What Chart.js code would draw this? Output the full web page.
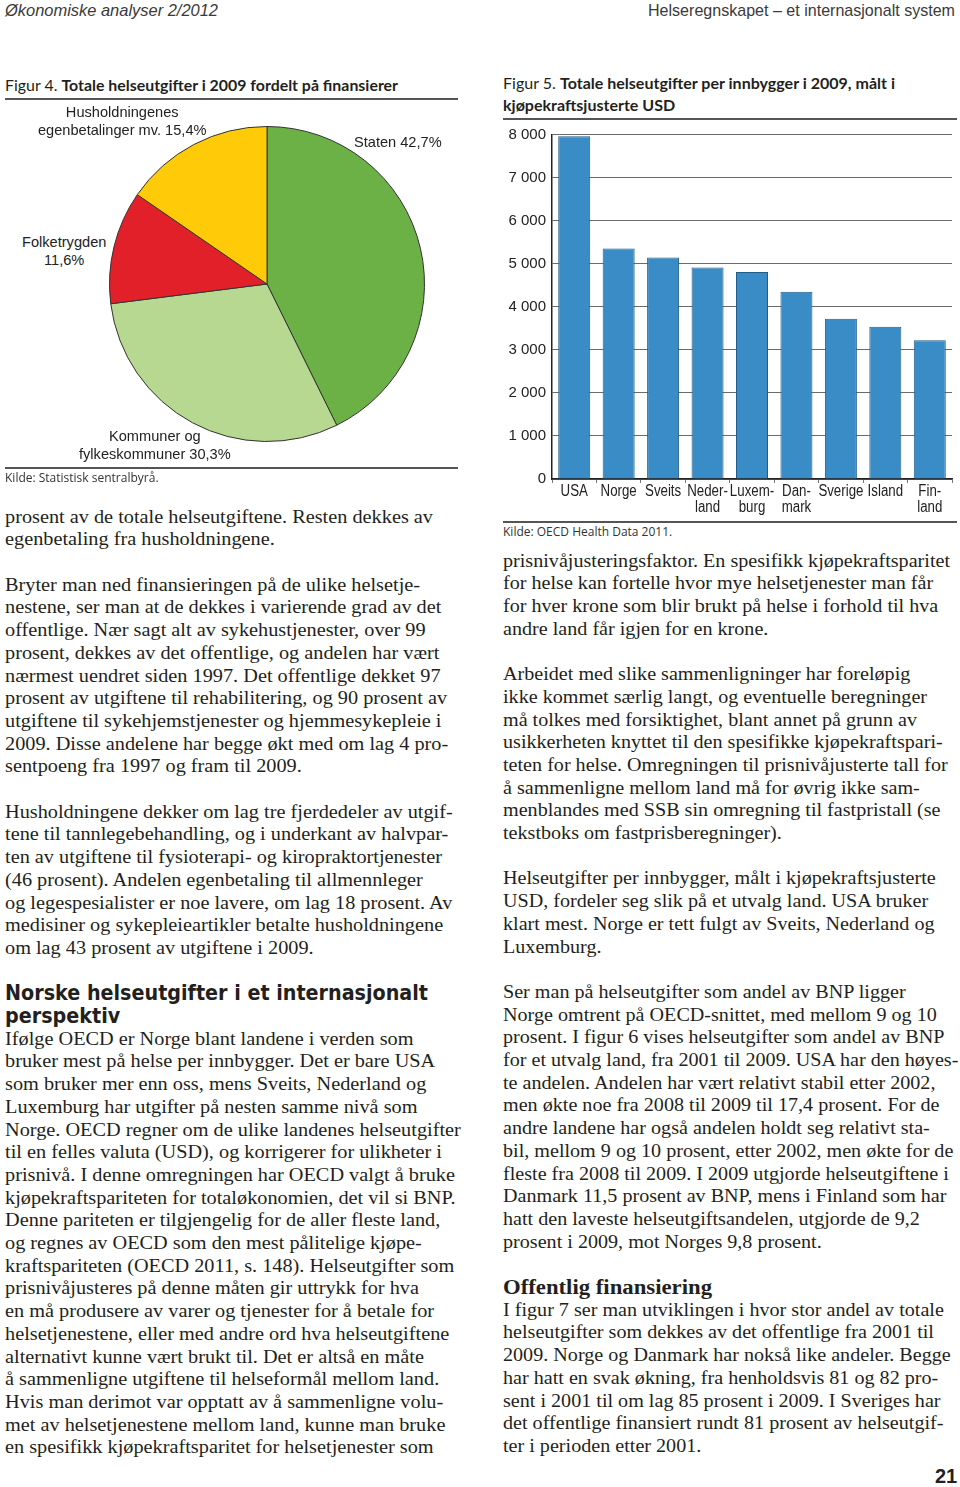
<!DOCTYPE html>
<html lang="no">
<head>
<meta charset="utf-8">
<script src="https://cdn.jsdelivr.net/npm/chart.js@4.4.1/dist/chart.umd.min.js"></script>
<style>
html, body { margin: 0; padding: 0; background: #fff; }
body { width: 960px; height: 1487px; position: relative; overflow: hidden; color: #231f20; }
.abs { position: absolute; white-space: nowrap; transform-origin: 0 50%; }
.hdr { font-family: 'Liberation Sans Narrow', 'Liberation Sans', sans-serif; font-style: italic; font-size: 17px; line-height: 20px; color: #3a3a3a; }
.hdr.r { font-style: normal; }
.ftitle { font-family: Lato, 'Open Sans', sans-serif; font-size: 15px; line-height: 20px; }
.ftitle b { font-weight: 700; }
.rule { position: absolute; height: 2px; background: #555; }
.kilde { font-family: 'Open Sans', Lato, sans-serif; font-size: 12px; line-height: 16px; color: #333; }
.plabel { font-family: 'Liberation Sans', Arial, sans-serif; font-size: 14.6px; line-height: 18px; color: #222; text-align: center; }
.line { font-family: 'Liberation Serif', serif; font-size: 19.5px; line-height: 22.7px; }
.h2 { font-family: 'DejaVu Sans', sans-serif; font-weight: bold; font-size: 21px; line-height: 22.7px; }
.h3 { font-family: 'Liberation Serif', serif; font-weight: bold; font-size: 20px; line-height: 22.7px; }
.pnum { font-family: 'Liberation Sans Narrow', 'Liberation Sans', sans-serif; font-weight: bold; font-size: 20px; }
</style>
</head>
<body>

<!-- topptekst -->
<div class="abs hdr" id="hdrL" style="left:5px;top:1px">Økonomiske analyser 2/2012</div>
<div class="abs hdr r" id="hdrR" style="left:648px;top:1px">Helseregnskapet – et internasjonalt system</div>

<!-- figur 4 -->
<div class="abs ftitle" id="t4" style="left:5px;top:75px">Figur 4. <b>Totale helseutgifter i 2009 fordelt på finansierer</b></div>
<div class="rule" style="left:5px;top:98px;width:453px"></div>
<div id="pieWrap" style="position:absolute;left:109px;top:126px;width:316px;height:316px">
  <canvas id="pie" width="316" height="316"></canvas>
</div>
<div id="pieLabels"></div>
<div class="rule" style="left:5px;top:467px;width:453px"></div>
<div class="abs kilde" style="left:5px;top:470px">Kilde: Statistisk sentralbyrå.</div>

<!-- figur 5 -->
<div class="abs ftitle" id="t5a" style="left:503px;top:73px">Figur 5. <b>Totale helseutgifter per innbygger i 2009, målt i</b></div>
<div class="abs ftitle" id="t5b" style="left:503px;top:95px"><b>kjøpekraftsjusterte USD</b></div>
<div class="rule" style="left:503px;top:118px;width:454px"></div>
<div style="position:absolute;left:500px;top:120px;width:460px;height:400px">
  <canvas id="bars" width="460" height="400"></canvas>
</div>
<div class="rule" style="left:503px;top:521px;width:454px"></div>
<div class="abs kilde" style="left:503px;top:524px">Kilde: OECD Health Data 2011.</div>

<div id="textL"></div>
<div id="textR"></div>

<div class="abs pnum" style="left:935px;top:1465px">21</div>

<script>
// figur 4 : finansierere ////////////////////////////////////////////
const financers = ['Staten', 'Kommuner og fylkeskommuner', 'Folketrygden', 'Husholdningenes egenbetalinger mv.'];
const shares = [42.7, 30.3, 11.6, 15.4];
const financerColors = ['#6cb146', '#b6d890', '#e2202a', '#ffcb08'];
// etikett: linjer, senter x, første linje y
const pieLabelLines = [['Staten'], ['Kommuner og', 'fylkeskommuner'], ['Folketrygden', ''], ['Husholdningenes', 'egenbetalinger mv.']];
const pieLabelPos = [[398, 133], [155, 427], [64, 233], [122, 103]];

// figur 5 : utgifter per innbygger //////////////////////////////////
const countries = ['USA', 'Norge', 'Sveits', ['Neder-', 'land'], ['Luxem-', 'burg'], ['Dan-', 'mark'], 'Sverige', 'Island', ['Fin-', 'land']];
const spendingUsd = [7960, 5352, 5144, 4914, 4808, 4348, 3722, 3538, 3226];
const yTicks = [0, 1000, 2000, 3000, 4000, 5000, 6000, 7000, 8000];

const pct = v => v.toFixed(1).replace('.', ',') + '%';
const thousands = v => String(v).replace(/\B(?=(\d{3})+(?!\d))/g, ' ');

// etiketter rundt kaka
const $labels = document.getElementById('pieLabels');
pieLabelLines.forEach((lines, i) => {
  const txt = lines.slice();
  const last = txt.length - 1;
  txt[last] = (txt[last] ? txt[last] + ' ' : '') + pct(shares[i]);
  const d = document.createElement('div');
  d.className = 'plabel';
  d.style.position = 'absolute';
  d.style.whiteSpace = 'nowrap';
  d.innerHTML = txt.join('<br>');
  $labels.appendChild(d);
  d.style.left = (pieLabelPos[i][0] - d.offsetWidth / 2) + 'px';
  d.style.top = pieLabelPos[i][1] + 'px';
});

new Chart(document.getElementById('pie'), {
  type: 'pie',
  data: {
    labels: financers,
    datasets: [{ data: shares, backgroundColor: financerColors, borderColor: '#333', borderWidth: 1 }]
  },
  options: {
    responsive: false,
    animation: false,
    rotation: 0,
    plugins: { legend: { display: false }, tooltip: { enabled: false } }
  }
});

// kategori-etiketter i smal (sammenpresset) Arial, som i originalen
const squeezedXLabels = {
  id: 'squeezedXLabels',
  afterDraw(chart) {
    const sx = chart.scales.x;
    const ctx = chart.ctx;
    ctx.save();
    ctx.font = "16px 'Liberation Sans', Arial, sans-serif";
    ctx.fillStyle = '#222';
    ctx.textAlign = 'center';
    ctx.textBaseline = 'top';
    chart.data.labels.forEach((lab, i) => {
      const x = sx.getPixelForTick(i);
      [].concat(lab).forEach((t, j) => {
        ctx.save();
        ctx.translate(x, sx.top + 5 + j * 16);
        ctx.scale(0.83, 1);
        ctx.fillText(t, 0, 0);
        ctx.restore();
      });
    });
    ctx.restore();
  }
};

const yFont = { family: "'Liberation Sans', Arial, sans-serif", size: 15, lineHeight: 1.15 };

new Chart(document.getElementById('bars'), {
  type: 'bar',
  data: {
    labels: countries,
    datasets: [{
      data: spendingUsd,
      backgroundColor: '#3a8cc6',
      borderColor: '#1f5d88',
      borderWidth: 1,
      barPercentage: 0.72,
      categoryPercentage: 1
    }]
  },
  options: {
    responsive: false,
    animation: false,
    layout: { padding: { top: 11, right: 8 } },
    plugins: { legend: { display: false }, tooltip: { enabled: false } },
    scales: {
      x: {
        grid: { offset: true, drawOnChartArea: false, tickLength: 4, color: '#777' },
        border: { color: '#222', width: 1.5 },
        ticks: { display: false },
        afterFit: s => { s.height = 41; }
      },
      y: {
        min: yTicks[0],
        max: yTicks[yTicks.length - 1],
        afterBuildTicks: s => { s.ticks = yTicks.map(v => ({ value: v })); },
        ticks: { callback: v => thousands(v), color: '#222', font: yFont, padding: 6 },
        grid: { color: '#6b6b6b', drawTicks: false },
        border: { color: '#222', width: 1.5 },
        afterFit: s => { s.width = 52; }
      }
    }
  },
  plugins: [squeezedXLabels]
});

// brødtekst ////////////////////////////////////////////////////////
const leftLines = [
  'prosent av de totale helseutgiftene. Resten dekkes av',
  'egenbetaling fra husholdningene.',
  '',
  'Bryter man ned finansieringen på de ulike helsetje-',
  'nestene, ser man at de dekkes i varierende grad av det',
  'offentlige. Nær sagt alt av sykehustjenester, over 99',
  'prosent, dekkes av det offentlige, og andelen har vært',
  'nærmest uendret siden 1997. Det offentlige dekket 97',
  'prosent av utgiftene til rehabilitering, og 90 prosent av',
  'utgiftene til sykehjemstjenester og hjemmesykepleie i',
  '2009. Disse andelene har begge økt med om lag 4 pro-',
  'sentpoeng fra 1997 og fram til 2009.',
  '',
  'Husholdningene dekker om lag tre fjerdedeler av utgif-',
  'tene til tannlegebehandling, og i underkant av halvpar-',
  'ten av utgiftene til fysioterapi- og kiropraktortjenester',
  '(46 prosent). Andelen egenbetaling til allmennleger',
  'og legespesialister er noe lavere, om lag 18 prosent. Av',
  'medisiner og sykepleieartikler betalte husholdningene',
  'om lag 43 prosent av utgiftene i 2009.',
  '',
  '#Norske helseutgifter i et internasjonalt',
  '#perspektiv',
  'Ifølge OECD er Norge blant landene i verden som',
  'bruker mest på helse per innbygger. Det er bare USA',
  'som bruker mer enn oss, mens Sveits, Nederland og',
  'Luxemburg har utgifter på nesten samme nivå som',
  'Norge. OECD regner om de ulike landenes helseutgifter',
  'til en felles valuta (USD), og korrigerer for ulikheter i',
  'prisnivå. I denne omregningen har OECD valgt å bruke',
  'kjøpekraftspariteten for totaløkonomien, det vil si BNP.',
  'Denne pariteten er tilgjengelig for de aller fleste land,',
  'og regnes av OECD som den mest pålitelige kjøpe-',
  'kraftspariteten (OECD 2011, s. 148). Helseutgifter som',
  'prisnivåjusteres på denne måten gir uttrykk for hva',
  'en må produsere av varer og tjenester for å betale for',
  'helsetjenestene, eller med andre ord hva helseutgiftene',
  'alternativt kunne vært brukt til. Det er altså en måte',
  'å sammenligne utgiftene til helseformål mellom land.',
  'Hvis man derimot var opptatt av å sammenligne volu-',
  'met av helsetjenestene mellom land, kunne man bruke',
  'en spesifikk kjøpekraftsparitet for helsetjenester som'
];
const rightLines = [
  'prisnivåjusteringsfaktor. En spesifikk kjøpekraftsparitet',
  'for helse kan fortelle hvor mye helsetjenester man får',
  'for hver krone som blir brukt på helse i forhold til hva',
  'andre land får igjen for en krone.',
  '',
  'Arbeidet med slike sammenligninger har foreløpig',
  'ikke kommet særlig langt, og eventuelle beregninger',
  'må tolkes med forsiktighet, blant annet på grunn av',
  'usikkerheten knyttet til den spesifikke kjøpekraftspari-',
  'teten for helse. Omregningen til prisnivåjusterte tall for',
  'å sammenligne mellom land må for øvrig ikke sam-',
  'menblandes med SSB sin omregning til fastpristall (se',
  'tekstboks om fastprisberegninger).',
  '',
  'Helseutgifter per innbygger, målt i kjøpekraftsjusterte',
  'USD, fordeler seg slik på et utvalg land. USA bruker',
  'klart mest. Norge er tett fulgt av Sveits, Nederland og',
  'Luxemburg.',
  '',
  'Ser man på helseutgifter som andel av BNP ligger',
  'Norge omtrent på OECD-snittet, med mellom 9 og 10',
  'prosent. I figur 6 vises helseutgifter som andel av BNP',
  'for et utvalg land, fra 2001 til 2009. USA har den høyes-',
  'te andelen. Andelen har vært relativt stabil etter 2002,',
  'men økte noe fra 2008 til 2009 til 17,4 prosent. For de',
  'andre landene har også andelen holdt seg relativt sta-',
  'bil, mellom 9 og 10 prosent, etter 2002, men økte for de',
  'fleste fra 2008 til 2009. I 2009 utgjorde helseutgiftene i',
  'Danmark 11,5 prosent av BNP, mens i Finland som har',
  'hatt den laveste helseutgiftsandelen, utgjorde de 9,2',
  'prosent i 2009, mot Norges 9,8 prosent.',
  '',
  '*Offentlig finansiering',
  'I figur 7 ser man utviklingen i hvor stor andel av totale',
  'helseutgifter som dekkes av det offentlige fra 2001 til',
  '2009. Norge og Danmark har nokså like andeler. Begge',
  'har hatt en svak økning, fra henholdsvis 81 og 82 pro-',
  'sent i 2001 til om lag 85 prosent i 2009. I Sveriges har',
  'det offentlige finansiert rundt 81 prosent av helseutgif-',
  'ter i perioden etter 2001.'
];

const LH = 22.7;
function buildColumn(host, lines, x, firstCenter) {
  const els = [];
  lines.forEach((t, i) => {
    if (!t) return;
    const d = document.createElement('div');
    let cls = 'line';
    if (t[0] === '#') { cls = 'h2'; t = t.slice(1); }
    else if (t[0] === '*') { cls = 'h3'; t = t.slice(1); }
    d.className = 'abs ' + cls;
    d.textContent = t;
    d.style.left = x + 'px';
    d.style.top = (firstCenter + i * LH - LH / 2) + 'px';
    host.appendChild(d);
    els.push(d);
  });
  return els;
}
const colL = buildColumn(document.getElementById('textL'), leftLines, 5, 517);
const colR = buildColumn(document.getElementById('textR'), rightLines, 503, 561);

// bredde-tilpasning: skaler horisontalt etter en referanselinje
function scaleTo(els, ref, w) {
  const s = w / ref.getBoundingClientRect().width;
  els.forEach(e => { e.style.transform = 'scaleX(' + s + ')'; });
}
scaleTo(colL.filter(e => e.classList.contains('line')), colL[0], 428);
scaleTo(colR.filter(e => e.classList.contains('line')), colR[0], 447);
const h2s = colL.filter(e => e.classList.contains('h2'));
scaleTo(h2s, h2s[0], 423);
const h3s = colR.filter(e => e.classList.contains('h3'));
scaleTo(h3s, h3s[0], 209);

const hL = document.getElementById('hdrL');
scaleTo([hL], hL, 213);
const hR = document.getElementById('hdrR');
scaleTo([hR], hR, 307);

const t4 = document.getElementById('t4');
scaleTo([t4], t4, 393);
const t5a = document.getElementById('t5a');
const t5b = document.getElementById('t5b');
scaleTo([t5a, t5b], t5a, 392);
</script>
</body>
</html>
